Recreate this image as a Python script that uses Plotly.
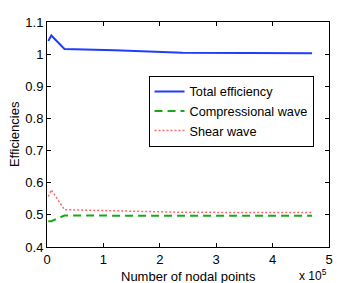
import plotly.graph_objects as go

nodal_points = [2300, 7600, 31000, 120000, 240000, 470000]
total_eff = [1.041, 1.058, 1.016, 1.012, 1.004, 1.003]
compressional = [0.480, 0.480, 0.498, 0.497, 0.497, 0.497]
shear = [0.557, 0.578, 0.516, 0.513, 0.508, 0.507]

x_tickvals = [0, 100000, 200000, 300000, 400000, 500000]
x_ticktext = ["0", "1", "2", "3", "4", "5"]
y_tickvals = [0.4, 0.5, 0.6, 0.7, 0.8, 0.9, 1.0, 1.1]
y_ticktext = ["0.4", "0.5", "0.6", "0.7", "0.8", "0.9", "1", "1.1"]

font = "Liberation Sans, Arial, Helvetica, sans-serif"

fig = go.Figure()
fig.add_trace(go.Scatter(x=nodal_points, y=total_eff, mode="lines", name="Total efficiency",
                         line=dict(color="#1f3cff", width=2)))
fig.add_trace(go.Scatter(x=nodal_points, y=compressional, mode="lines", name="Compressional wave",
                         line=dict(color="#1aa81a", width=2, dash="8px,5px")))
fig.add_trace(go.Scatter(x=nodal_points, y=shear, mode="lines", name="Shear wave",
                         line=dict(color="#ff6666", width=1.5, dash="2px,2px")))

axis_common = dict(showline=True, linecolor="black", linewidth=1, mirror="ticks",
                   ticks="inside", ticklen=4, tickcolor="black", showgrid=False,
                   zeroline=False, automargin=False, tickfont=dict(size=13, color="black"))

# The page body has an 8px margin, so the figure is made 8px smaller and margins shifted.
fig.update_layout(
    width=356, height=275,
    margin=dict(l=39, r=35, t=14, b=36),
    paper_bgcolor="white", plot_bgcolor="white",
    font=dict(family=font, size=13, color="black"),
    xaxis=dict(range=[0, 500000], tickvals=x_tickvals, ticktext=x_ticktext,
               **axis_common),
    yaxis=dict(range=[0.4, 1.1], tickvals=y_tickvals, ticktext=y_ticktext,
               **axis_common),
    legend=dict(x=0.36, y=0.761, xanchor="left", yanchor="top",
                bgcolor="white", bordercolor="black", borderwidth=1,
                font=dict(size=12.7), tracegroupgap=0, itemwidth=30),
    showlegend=True,
)
fig.add_annotation(text="Number of nodal points", xref="paper", yref="paper", x=0.5, y=-0.09,
                   xanchor="center", yanchor="top", showarrow=False, font=dict(size=13))
fig.add_annotation(text="Efficiencies", xref="paper", yref="paper", x=-0.115, y=0.5,
                   xanchor="center", yanchor="middle", textangle=-90, showarrow=False,
                   font=dict(size=13))
fig.add_annotation(text="x 10<sup>5</sup>", xref="paper", yref="paper", x=1.0, y=-0.08,
                   xanchor="right", yanchor="top", showarrow=False, font=dict(size=12))

fig.write_html("out.html")
